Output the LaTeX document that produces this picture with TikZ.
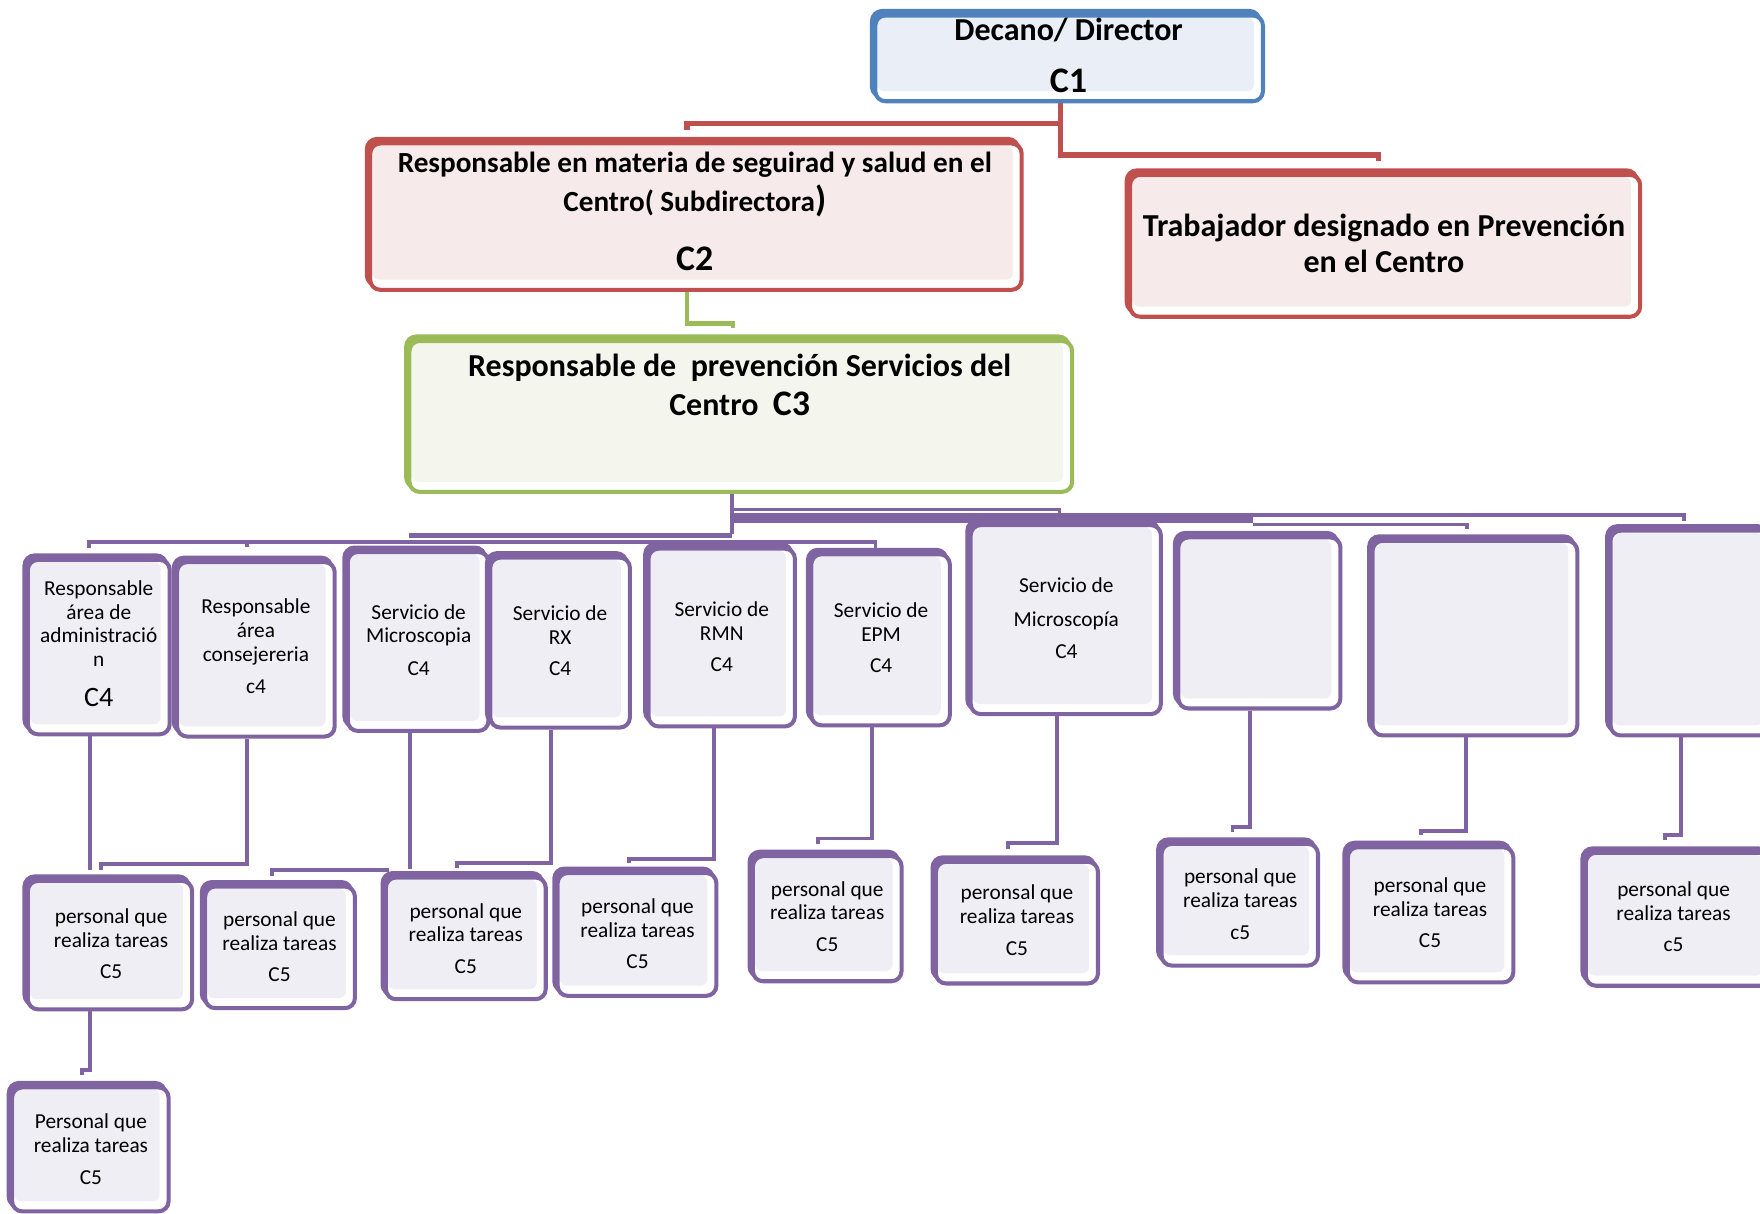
\documentclass[tikz,border=0pt]{standalone}
\usepackage{fontspec}
\setmainfont{Carlito}
\definecolor{P}{HTML}{8064A2}
\definecolor{PF}{HTML}{F0EEF5}
\definecolor{R}{HTML}{C0504D}
\definecolor{RF}{HTML}{F7EAEA}
\definecolor{B}{HTML}{4F81BD}
\definecolor{BF}{HTML}{EAEFF7}
\definecolor{G}{HTML}{9BBB59}
\definecolor{GF}{HTML}{F4F6EE}
\tikzset{
 cbox/.style n args={2}{draw=#1, fill=white, line width=3.6pt, rounded corners=9pt, inner sep=0pt,
   preaction={draw=#1, fill=#1, line width=3.6pt, rounded corners=9pt, transform canvas={shift={(-3pt,4pt)}}},
   path picture={\fill[#2, rounded corners=6pt] ([shift={(2pt,-2pt)}]path picture bounding box.north west) rectangle ([shift={(-8pt,9pt)}]path picture bounding box.south east);}},
 pl/.style={draw=P, line width=3.5pt},
 rl/.style={draw=R, line width=4.8pt},
 gl/.style={draw=G, line width=4pt},
 txt/.style={align=center, inner sep=0pt, font=\fontsize{19}{21}\selectfont},
 code/.style={inner sep=0pt, font=\fontsize{19}{21}\selectfont},
 hd/.style={align=center, inner sep=0pt, font=\fontsize{28.5}{35}\selectfont\bfseries},
 big/.style={inner sep=0pt, font=\fontsize{32}{32}\selectfont\bfseries},
}
\newcommand{\mkbox}[7]{%
 \node[cbox={#1}{#2}, minimum width={(#6-#4-6.6)*1pt}, minimum height={(#7-#5-7.6)*1pt}] (#3) at ({(#4+#6+3)/2},{(#5+#7+4)/2}) {};}
\begin{document}
\begin{tikzpicture}[x=1pt,y=-1pt]
\useasboundingbox (0,0) rectangle (1568,1081);
% connectors (drawn first)
\draw[rl] (945,92) -- (945,138) -- (1228,138) -- (1228,143);
\draw[rl] (945,110) -- (612,110) -- (612,116);
\draw[gl] (612,260) -- (612,288) -- (653,288) -- (653,292);
\draw[pl] (652,440) -- (652,476);
\draw[pl, line width=3pt] (652,454) -- (944,454) -- (944,458);
\draw[pl, line width=3.5pt] (652,459) -- (1500,459) -- (1500,464);
\draw[pl, line width=6pt] (652,463) -- (1116,463);
\draw[pl, line width=3pt] (1116,467) -- (1307,467) -- (1307,471);
\draw[pl, line width=5pt] (364,477) -- (652,477);
\draw[pl] (79,488) -- (79,483) -- (780,483) -- (780,488);
\draw[pl] (220,483) -- (220,487);
% C4 -> C5
\draw[pl] (80,656) -- (80,775);
\draw[pl] (220,658) -- (220,770) -- (90,770) -- (90,775);
\draw[pl] (365,653) -- (365,774);
\draw[pl] (347,775) -- (242,775) -- (242,780);
\draw[pl] (491,650) -- (491,769) -- (407,769) -- (407,773);
\draw[pl] (636,649) -- (636,765) -- (560,765) -- (560,769);
\draw[pl] (777,648) -- (777,747) -- (729,747) -- (729,752);
\draw[pl] (942,638) -- (942,751) -- (898,751) -- (898,756);
\draw[pl] (1114,633) -- (1114,737) -- (1098,737) -- (1098,741);
\draw[pl] (1306,657) -- (1306,740) -- (1266,740) -- (1266,744);
\draw[pl] (1498,657) -- (1498,744) -- (1483,744) -- (1483,748);
\draw[pl] (80,901) -- (80,953) -- (73,953) -- (73,958);
% top boxes
\mkbox{B}{BF}{c1}{775}{8}{1127}{92}
\mkbox{R}{RF}{c2}{325}{122}{912}{260}
\mkbox{R}{RF}{tr}{1002}{150}{1463}{284}
\mkbox{G}{GF}{c3}{360}{298}{957}{440}
% C4 boxes
\mkbox{P}{PF}{a1}{20}{493}{153}{656}
\mkbox{P}{PF}{a2}{153}{495}{300}{658}
\mkbox{P}{PF}{a3}{305}{486}{437}{653}
\mkbox{P}{PF}{a4}{432}{491}{563}{650}
\mkbox{P}{PF}{a5}{573}{483}{710}{649}
\mkbox{P}{PF}{a6}{718}{488}{848}{648}
\mkbox{P}{PF}{a7}{860}{462}{1036}{638}
\mkbox{P}{PF}{a8}{1045}{473}{1196}{633}
\mkbox{P}{PF}{a9}{1218}{476}{1407}{657}
\mkbox{P}{PF}{a10}{1430}{467}{1580}{657}
% C5 boxes
\mkbox{P}{PF}{k1}{20}{779}{173}{901}
\mkbox{P}{PF}{k2}{178}{784}{318}{900}
\mkbox{P}{PF}{k3}{339}{776}{488}{892}
\mkbox{P}{PF}{k4}{492}{772}{640}{889}
\mkbox{P}{PF}{k5}{666}{757}{805}{876}
\mkbox{P}{PF}{k6}{829}{762}{980}{878}
\mkbox{P}{PF}{k7}{1030}{746}{1176}{862}
\mkbox{P}{PF}{k8}{1196}{749}{1350}{877}
\mkbox{P}{PF}{k9}{1408}{754}{1580}{880}
\mkbox{P}{PF}{k10}{6}{963}{152}{1081}
% texts top
\node[hd] (tc1) at (952,27) {Decano/ Director};
\node[big] (tc1b) at (952,72) {C1};
\node[hd, font=\fontsize{26}{35}\selectfont\bfseries] (tc2) at (619,164.5) {Responsable en materia de seguirad y salud en el\\Centro( Subdirectora{\fontsize{32}{35}\selectfont )}};
\node[big] (tc2b) at (619,231) {C2};
\node[hd, font=\fontsize{28.5}{32}\selectfont\bfseries] (ttr) at (1233,217) {Trabajador designado en Prevención\\en el Centro};
\node[hd] (tc3) at (659,343) {Responsable de\ \ prevención Servicios del\\Centro\ \ {\fontsize{32}{35}\selectfont C3}};
% C4 texts
\node[txt] (ta1) at (88,555.5) {Responsable\\área de\\administració\\n};
\node[code, font=\fontsize{25}{25}\selectfont] (ta1c) at (88,621) {C4};
\node[txt] (ta2) at (228,563) {Responsable\\área\\consejereria};
\node[code] (ta2c) at (228,612) {c4};
\node[txt] (ta3) at (373,557) {Servicio de\\Microscopia};
\node[code] (ta3c) at (373,596) {C4};
\node[txt] (ta4) at (499,557) {Servicio de\\RX};
\node[code] (ta4c) at (499,596) {C4};
\node[txt] (ta5) at (643,553.5) {Servicio de\\RMN};
\node[code] (ta5c) at (643,592) {C4};
\node[txt] (ta6) at (785,554) {Servicio de\\EPM};
\node[code] (ta6c) at (785,593) {C4};
\node[txt, font=\fontsize{19}{30}\selectfont] (ta7) at (950,538) {Servicio de\\Microscopía};
\node[code] (ta7c) at (950,581) {C4};
% C5 texts
\node[txt] (tk1) at (99,827) {personal que\\realiza tareas};
\node[code] (tk1c) at (99,866) {C5};
\node[txt] (tk2) at (249,829.5) {personal que\\realiza tareas};
\node[code] (tk2c) at (249,868) {C5};
\node[txt] (tk3) at (415,822) {personal que\\realiza tareas};
\node[code] (tk3c) at (415,861) {C5};
\node[txt] (tk4) at (568,818) {personal que\\realiza tareas};
\node[code] (tk4c) at (568,857) {C5};
\node[txt] (tk5) at (737,802.5) {personal que\\realiza tareas};
\node[code] (tk5c) at (737,842) {C5};
\node[txt] (tk6) at (906,805.5) {peronsal que\\realiza tareas};
\node[code] (tk6c) at (906,845) {C5};
\node[txt] (tk7) at (1105,791.5) {personal que\\realiza tareas};
\node[code] (tk7c) at (1105,831) {c5};
\node[txt] (tk8) at (1274,799.5) {personal que\\realiza tareas};
\node[code] (tk8c) at (1274,838) {C5};
\node[txt] (tk9) at (1491,803) {personal que\\realiza tareas};
\node[code] (tk9c) at (1491,842) {c5};
\node[txt] (tk10) at (81,1009.5) {Personal que\\realiza tareas};
\node[code] (tk10c) at (81,1049) {C5};
\end{tikzpicture}
\end{document}
